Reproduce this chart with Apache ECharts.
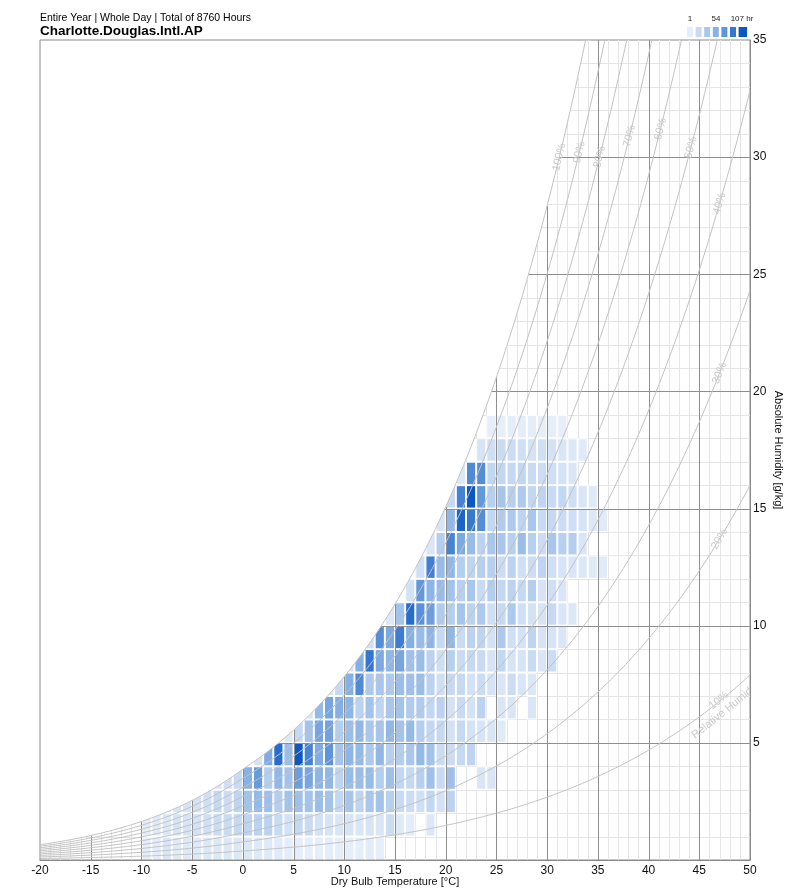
<!DOCTYPE html>
<html>
<head>
<meta charset="utf-8">
<script src="https://cdn.jsdelivr.net/npm/echarts@6.0.0/dist/echarts.min.js"></script>
<style>
html,body{margin:0;padding:0;background:#fff;}
#chart{width:800px;height:894px;}
</style>
</head>
<body>
<div id="chart"></div>
<script>
// ---------------- text ----------------
const subtitleText = 'Entire Year | Whole Day | Total of 8760 Hours';
const stationText = 'Charlotte.Douglas.Intl.AP';
const xAxisTitle = 'Dry Bulb Temperature [°C]';
const yAxisTitle = 'Absolute Humidity [g/kg]';
const legendLabels = ['1', '54', '107 hr'];
const hourMin = 1, hourMax = 107;

// ---------------- axes ----------------
const tempMin = -20, tempMax = 50, tempStep = 5;
const humMin = 0, humMax = 35, humStep = 5;
const rhLevels = [10, 20, 30, 40, 50, 60, 70, 80, 90, 100];

// ---------------- hours per 1°C x 1 g/kg bin ----------------
// one array per humidity bin (H .. H+1 g/kg); first temperature of each array in rowStartTemp
const rowStartTemp = [-10, -10, -8, -3, 1, 4, 6, 8, 10, 12, 14, 16, 17, 18, 19, 20, 21, 23, 24];
const hoursH00 = [2,3,8,4,5,5,6,6,7,6, 6,5,5,4,2,2,1,1,2,1, 1,1,3,1];
const hoursH01 = [3,4,6,10,10,12,14,16,18,20, 24,26,26,18,12,20,18,12,10,8, 10,8,10,8,16,5,3,0,6];
const hoursH02 = [4,8,10,12,14,20,16,24, 40,48,42,30,40,42,40,44,40,22, 38,24,36,40,28,18,16,14,22,12,26];
const hoursH03 = [8,14,18, 55,68,30,50,40,66,62,52,50,24, 46,44,46,30,42,22,20,28,42,18, 42,0,0,8,8];
const hoursH04 = [10,58,95,44,107,82,58,72,38, 52,48,34,50,28,30,36,48,40,16, 16,20,24];
const hoursH05 = [6,20,40,62,64,30, 44,50,36,38,50,40,48,30,22,20, 12,20,12,10,8,4];
const hoursH06 = [8,48,62,56, 52,26,40,24,36,40,32,32,22,26, 12,18,12,26,0,8,8,0,8];
const hoursH07 = [6,20, 56,78,34,36,34,44,42,44,26,14, 20,20,12,16,10,8,16,8,6];
const hoursH08 = [10,56,90,60,50,62,42,44,26,14, 28,18,20,18,10,22,10,10,18,8,16];
const hoursH09 = [14,76,60,86,56,46,52,20, 50,18,26,24,12,34,14,12,24,10,10,8];
const hoursH10 = [6,40,95,74,66,32, 30,38,26,34,14,20,34,14,12,10,20,8,6];
const hoursH11 = [12,70,52,46, 40,28,36,18,30,22,26,20,30,10,14,8];
const hoursH12 = [14,84,46, 50,30,24,28,28,16,26,14,16,24,14,10,8,6,5,4];
const hoursH13 = [8,30, 82,60,46,26,36,36,28,44,28,16,36,28,30,8];
const hoursH14 = [10, 50,100,88,76,22,32,34,24,36,18,20,16,14,10,6,4];
const hoursH15 = [20,82,107,70,28,38,28,34,22,24,18,22,14,8,5];
const hoursH16 = [6,78,76,22,22,20,22,18,16,14,12,8];
const hoursH17 = [10,14,18,16,14,12,14,12,8,6,4];
const hoursH18 = [1,1,2,2,2,1,1,1];
const hoursRows = [hoursH00,hoursH01,hoursH02,hoursH03,hoursH04,hoursH05,hoursH06,hoursH07,hoursH08,hoursH09,
                   hoursH10,hoursH11,hoursH12,hoursH13,hoursH14,hoursH15,hoursH16,hoursH17,hoursH18];

// ---------------- psychrometrics (station pressure) ----------------
const P_KPA = 98.6;
function pws(t){ return t >= 0 ? 0.61094*Math.exp(17.625*t/(t+243.04)) : 0.61115*Math.exp(22.452*t/(t+272.55)); }
function wAt(t, rh){ const p = rh*pws(t); return 622*p/(P_KPA - p); }
function wsat(t){ return wAt(t, 1); }
function dewT(w){
  const p = w*P_KPA/(622+w);
  if (p >= 0.61094){ const l = Math.log(p/0.61094); return 243.04*l/(17.625-l); }
  const l = Math.log(p/0.61115); return 272.55*l/(22.452-l);
}

// ---------------- colours ----------------
const cLight = [230,238,249], cMid = [138,179,229], cDark = [10,88,196];
function colorFor(v){
  let t = (Math.min(hourMax, Math.max(hourMin, v)) - hourMin)/(hourMax - hourMin);
  let a, b, f;
  if (t <= 0.5){ a = cLight; b = cMid; f = t/0.5; } else { a = cMid; b = cDark; f = (t-0.5)/0.5; }
  const c = a.map((x,i)=>Math.round(x + (b[i]-x)*f));
  return 'rgb(' + c.join(',') + ')';
}

// ---------------- derived data ----------------
const cellData = [];
hoursRows.forEach((row, k) => {
  row.forEach((v, i) => { if (v > 0) cellData.push([rowStartTemp[k] + i, k, v]); });
});

const minorSegs = [], majorSegs = [];
for (let t = tempMin + 1; t < tempMax; t++) {
  const top = Math.min(humMax, wsat(t));
  (t % 5 === 0 ? majorSegs : minorSegs).push([t, humMin, t, top]);
}
for (let h = humMin + 1; h < humMax; h++) {
  const left = Math.max(tempMin, dewT(h));
  (h % 5 === 0 ? majorSegs : minorSegs).push([left, h, tempMax, h]);
}

const rhSeries = rhLevels.map(rh => {
  const pts = [];
  for (let t = tempMin; t <= tempMax + 0.001; t += 0.25) {
    const w = wAt(t, rh/100);
    pts.push([t, w]);
    if (w > humMax) break;
  }
  return {
    type: 'line', data: pts, symbol: 'none', showSymbol: false, clip: true, silent: true,
    lineStyle: { color: '#c2c2c2', width: 1 }, z: 4, animation: false
  };
});

// label anchors: [rh, mode, value]  mode 'w' = at humidity, 't' = at temperature
const rhLabelAnchors = [[100,'w',30.0],[90,'w',30.2],[80,'w',30.0],[70,'w',30.9],[60,'w',31.2],[50,'w',30.4],
                        [40,'t',47],[30,'t',47],[20,'t',47],[10,'t',47.0]];

const FONT = 'Arial, "Liberation Sans", Helvetica, sans-serif';

function segRenderer(color){
  return function(params, api){
    const a = api.coord([api.value(0), api.value(1)]);
    const b = api.coord([api.value(2), api.value(3)]);
    let x1=a[0], y1=a[1], x2=b[0], y2=b[1];
    if (Math.abs(x1-x2) < 0.01){ x1 = x2 = Math.round(x1) + 0.5; }
    if (Math.abs(y1-y2) < 0.01){ y1 = y2 = Math.round(y1) + 0.5; }
    return { type:'line', shape:{x1:x1,y1:y1,x2:x2,y2:y2}, style:{stroke:color, lineWidth:1}, silent:true };
  };
}

function renderCell(params, api){
  const t0 = api.value(0), h0 = api.value(1), v = api.value(2);
  const t1 = t0 + 1, h1 = h0 + 1;
  if (wsat(t1) <= h0) return null;
  const p0 = api.coord([t0, h0]), p1 = api.coord([t1, h1]);
  function poly(inset, bottomInset){
    const xl = p0[0] + inset, xr = p1[0] - inset, yb = p0[1] - bottomInset, yt = p1[1] + inset;
    const pts = [[xl, yb], [xr, yb]];
    const N = 14;
    for (let j = 0; j <= N; j++){
      const t = t1 - (t1 - t0)*j/N;
      const c = api.coord([t, Math.min(h1 + 1, wsat(t))]);
      const x = Math.min(xr, Math.max(xl, c[0]));
      const y = Math.min(yb, Math.max(yt, c[1]));
      pts.push([x, y]);
    }
    return pts;
  }
  return {
    type: 'group',
    children: [
      { type:'polygon', shape:{points: poly(0, h0 === 0 ? 1 : 0)}, style:{fill:'#ffffff'} },
      { type:'polygon', shape:{points: poly(1, 1)}, style:{fill: colorFor(v)} }
    ]
  };
}

function renderRhLabel(params, api){
  const rh = api.value(0)/100;
  const mode = rhLabelAnchors[params.dataIndex][1];
  const val = api.value(2);
  let t;
  if (mode === 't') { t = val; }
  else {
    let lo = -20, hi = 60;
    for (let i = 0; i < 60; i++){ const m = (lo+hi)/2; if (wAt(m, rh) < val) lo = m; else hi = m; }
    t = (lo+hi)/2;
  }
  const c = api.coord([t, wAt(t, rh)]);
  const a = api.coord([t - 0.3, wAt(t - 0.3, rh)]);
  const b = api.coord([t + 0.3, wAt(t + 0.3, rh)]);
  const ang = Math.atan2(a[1] - b[1], b[0] - a[0]);
  const isTen = api.value(0) === 10;
  const txt = isTen ? '10%\nRelative Humidity' : (api.value(0) + '%');
  let x = c[0], y = c[1];
  if (isTen) { x += Math.sin(ang) * 5; y += Math.cos(ang) * 5; }
  return {
    type: 'text', x: x, y: y, rotation: ang,
    style: { text: txt, fill: '#c9c9c9', font: '11px ' + FONT, align: 'center', verticalAlign: 'middle', lineHeight: 12 },
    silent: true
  };
}

const chart = echarts.init(document.getElementById('chart'), null, {renderer: 'canvas'});

const legendX = [687, 695.6, 704.2, 712.8, 721.4, 730, 738.6];
const legendW = [6, 6, 6, 6, 6, 6, 8.5];
const legendVals = [1, 18.7, 36.3, 54, 71.7, 89.3, 107];
const legendGraphics = legendVals.map((v, i) => ({
  type: 'rect', shape: {x: legendX[i], y: 27, width: legendW[i], height: 10}, style: {fill: colorFor(v)}
}));
const legendLabelX = [690, 716, 742];
legendLabels.forEach((s, i) => legendGraphics.push({
  type: 'text', x: legendLabelX[i], y: 19,
  style: {text: s, fill: '#222', font: '8px ' + FONT, align: 'center', verticalAlign: 'middle'}
}));

const option = {
  animation: false,
  backgroundColor: '#ffffff',
  grid: { left: 40, right: 50, top: 40, bottom: 34, containLabel: false, outerBoundsMode: 'none',
          show: true, borderColor: '#8a8a8a', borderWidth: 1, backgroundColor: 'transparent' },
  xAxis: {
    type: 'value', min: tempMin, max: tempMax, interval: tempStep,
    axisLine: { show: true, onZero: false, lineStyle: { color: '#8a8a8a' } },
    axisTick: { show: false },
    splitLine: { show: false },
    axisLabel: { color: '#111', fontSize: 12, fontFamily: FONT, margin: 5 }
  },
  yAxis: {
    type: 'value', min: humMin, max: humMax, interval: humStep, position: 'right',
    axisLine: { show: true, onZero: false, lineStyle: { color: '#8a8a8a' } },
    axisTick: { show: false },
    splitLine: { show: false },
    axisLabel: { color: '#111', fontSize: 12, fontFamily: FONT, margin: 3, showMinLabel: false,
                 formatter: v => (v === 0 ? '' : String(v)) }
  },
  graphic: [
    { type: 'text', left: 40, top: 13, style: { text: subtitleText, fill: '#000', font: '10.5px ' + FONT } },
    { type: 'text', left: 40, top: 24, style: { text: stationText, fill: '#000', font: 'bold 13.5px ' + FONT } },
    { type: 'text', x: 395, y: 882, style: { text: xAxisTitle, fill: '#111', font: '11px ' + FONT, align: 'center', verticalAlign: 'middle' } },
    { type: 'text', x: 778, y: 450, rotation: -Math.PI/2,
      style: { text: yAxisTitle, fill: '#111', font: '11px ' + FONT, align: 'center', verticalAlign: 'middle' } }
  ].concat(legendGraphics),
  series: [
    { type: 'custom', name: 'minorGrid', data: minorSegs, renderItem: segRenderer('#e5e5e5'), z: 1, silent: true, clip: true,
      encode: { x: [0, 2], y: [1, 3] } },
    { type: 'custom', name: 'hours', data: cellData, renderItem: renderCell, z: 2, silent: true, clip: true,
      encode: { x: 0, y: 1 } },
    { type: 'custom', name: 'majorGrid', data: majorSegs, renderItem: segRenderer('#8e8e8e'), z: 3, silent: true, clip: true,
      encode: { x: [0, 2], y: [1, 3] } }
  ].concat(rhSeries).concat([
    { type: 'custom', name: 'rhLabels', data: rhLabelAnchors.map(a => [a[0], 0, a[2]]), renderItem: renderRhLabel,
      z: 5, silent: true, clip: true, encode: { x: 1, y: 1 } }
  ])
};
chart.setOption(option);
</script>
</body>
</html>
